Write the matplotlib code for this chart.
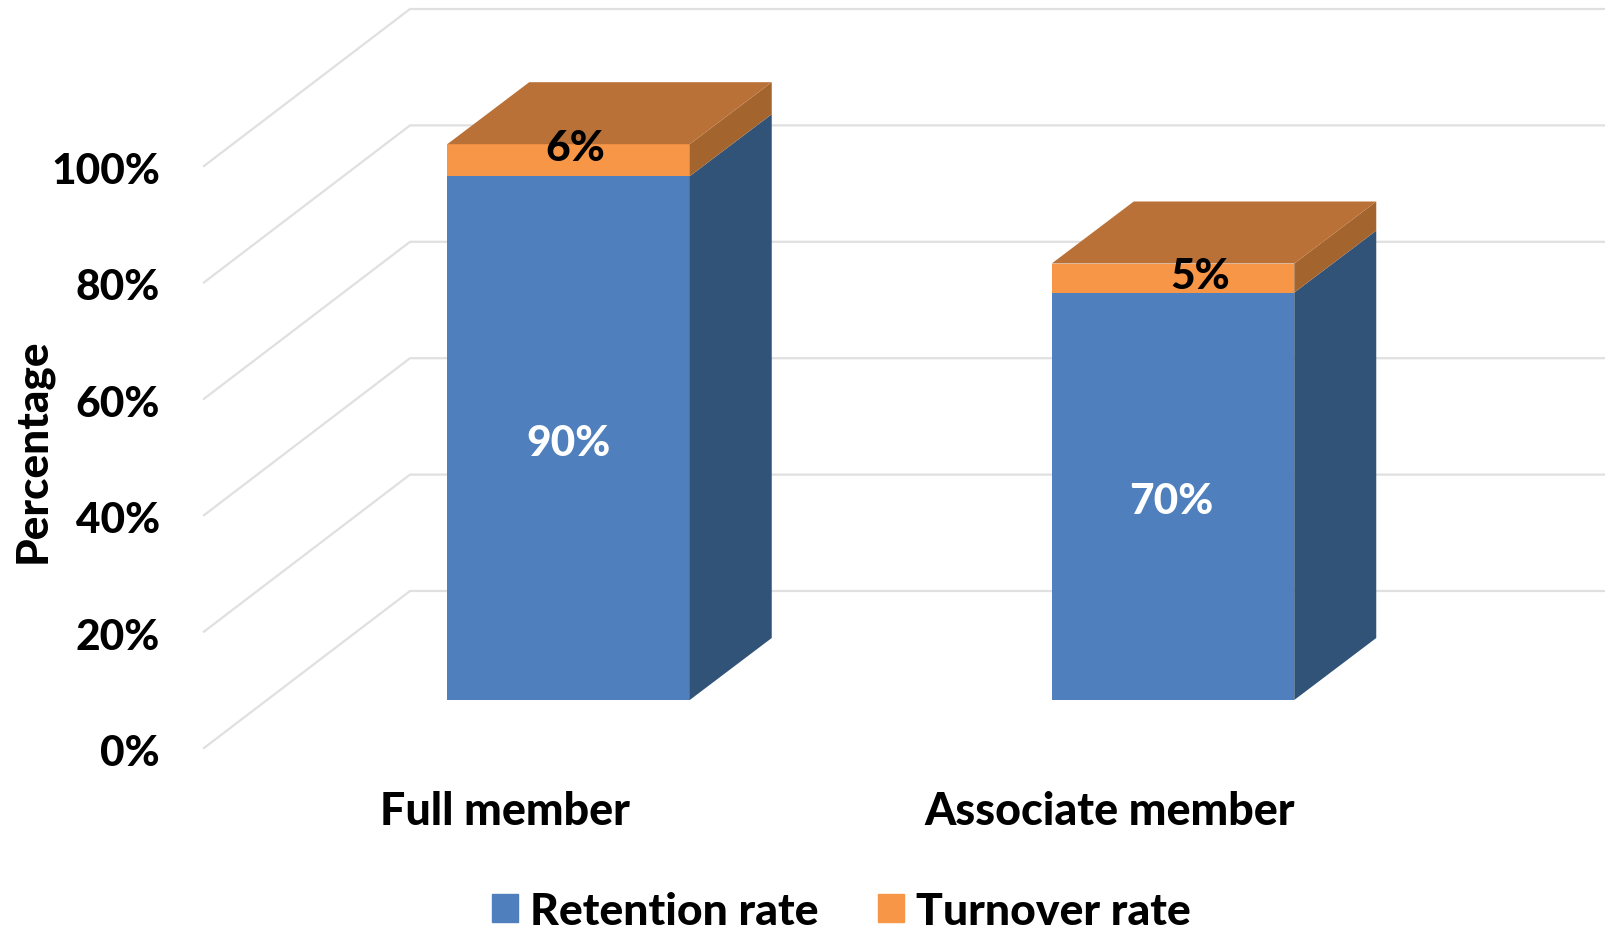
import numpy as np
from matplotlib import pyplot as plt
from matplotlib.patches import Patch

categories = ['Full member', 'Associate member']
retention = [90, 70]
turnover = [5.5, 5]
retention_labels = ['90%', '70%']
turnover_labels = ['6%', '5%']
y_ticks = [0, 20, 40, 60, 80, 100]

# figure px per unit
PX_X = 604.5
PX_Y = 5.82
W, H = 1605, 929
bar_w = 242.5 / PX_X
depth_x = 82 / PX_X
depth_y = 62 / PX_Y

BLUE = '#4f7fbc'
BLUE_SIDE = '#325378'
ORANGE = '#f79646'
ORANGE_SIDE = '#a4642e'
ORANGE_TOP = '#ba7137'
GRID = '#e0e0e0'

plt.rcParams['font.family'] = ['Lato', 'DejaVu Sans']
plt.rcParams['font.weight'] = 'black'

fig = plt.figure(figsize=(W / 100, H / 100), dpi=100)
ax = fig.add_axes([0, 0, 1, 1])
ax.set_xlim(-568.5 / PX_X, (W - 568.5) / PX_X)
ax.set_ylim(-(H - 701) / PX_Y, 701 / PX_Y)
ax.axis('off')

# gridlines: floor/wall planes sit off the bar plane
grid_x0 = (204 - 568.5) / PX_X
grid_x1 = (410 - 568.5) / PX_X
grid_x2 = (W - 568.5) / PX_X
front_off = -48 / PX_Y
back_off = 109 / PX_Y
label_drop = 5 / PX_Y
for v in y_ticks:
    ax.plot([grid_x0, grid_x1, grid_x2],
            [v + front_off, v + back_off, v + back_off],
            color=GRID, lw=1.6, zorder=1, solid_joinstyle='miter')
    ax.text((160 - 568.5) / PX_X, v + front_off - label_drop, f'{v}%',
            ha='right', va='center', fontsize=30.5, color='black')

x = np.arange(len(categories))
for i, cx in enumerate(x):
    left = cx - bar_w / 2
    right = cx + bar_w / 2
    h1 = retention[i]
    h2 = h1 + turnover[i]
    ax.bar(cx, h1, bar_w, color=BLUE, lw=0, zorder=3)
    ax.bar(cx, turnover[i], bar_w, bottom=h1, color=ORANGE, lw=0, zorder=3)
    ax.fill([right, right + depth_x, right + depth_x, right],
            [0, depth_y, h1 + depth_y, h1], color=BLUE_SIDE, lw=0, zorder=3)
    ax.fill([right, right + depth_x, right + depth_x, right],
            [h1, h1 + depth_y, h2 + depth_y, h2], color=ORANGE_SIDE, lw=0, zorder=3)
    ax.fill([left, left + depth_x, right + depth_x, right],
            [h2, h2 + depth_y, h2 + depth_y, h2], color=ORANGE_TOP, lw=0, zorder=3)
    ax.text(cx - i * 2 / PX_X, h1 / 2 - label_drop, retention_labels[i], ha='center',
            va='center', color='white', fontsize=30.5, zorder=5)
    ax.text(cx - 63.5 / PX_X, -(812 - 701) / PX_Y, categories[i], ha='center',
            va='center', color='black', fontsize=32.2)

ax.text(7 / PX_X, 94.8, turnover_labels[0], ha='center', va='center',
        color='black', fontsize=30.5, zorder=5)
ax.text(1 + 27 / PX_X, 72.9, turnover_labels[1], ha='center', va='center',
        color='black', fontsize=30.5, zorder=5)

ax.text((33 - 568.5) / PX_X, (701 - 451) / PX_Y, 'Percentage', rotation=90,
        ha='center', va='center', color='black', fontsize=31.8)

handles = [Patch(color=BLUE, label='Retention rate'),
           Patch(color=ORANGE, label='Turnover rate')]
ax.legend(handles=handles, ncol=2, frameon=False, fontsize=32,
          loc='lower left', bbox_to_anchor=(492 / W, -3 / H), borderaxespad=0,
          borderpad=0, handlelength=0.59, handleheight=0.59, handletextpad=0.27,
          columnspacing=1.33)

plt.savefig('out.png', dpi=100)
